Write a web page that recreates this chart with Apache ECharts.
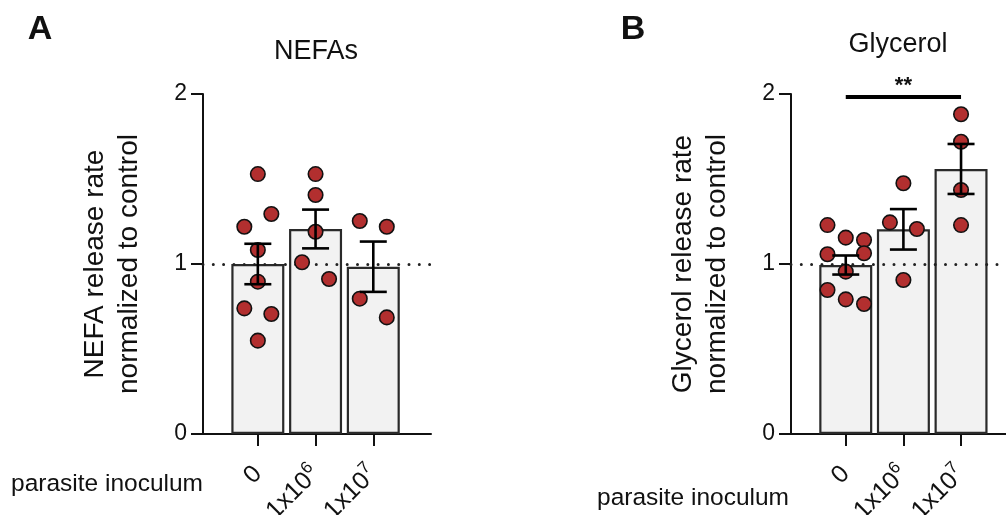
<!DOCTYPE html>
<html>
<head>
<meta charset="utf-8">
<script src="https://cdn.jsdelivr.net/npm/echarts@6/dist/echarts.min.js"></script>
<style>
  html, body { margin: 0; padding: 0; background: #fff; }
  #main { width: 1006px; height: 515px; }
</style>
</head>
<body>
<div id="main"></div>
<script>
// groups on the x axis
var groups = ['0', '1x10^6', '1x10^7'];
var yTicks = [0, 1, 2];

// NEFA release (normalized), one array per group
var nefaCtrl = [1.529, 1.294, 1.219, 1.082, 0.896, 0.739, 0.706, 0.549];
var nefaLow = [1.529, 1.406, 1.190, 1.010, 0.912];
var nefaHigh = [1.253, 1.219, 0.796, 0.686];
var nefaMean = [1.000, 1.206, 0.984];
var nefaSem = [0.119, 0.114, 0.148];

// glycerol release (normalized)
var glyCtrl = [1.229, 1.155, 1.141, 1.057, 1.063, 0.955, 0.847, 0.792, 0.765];
var glyLow = [1.475, 1.245, 1.206, 0.906];
var glyHigh = [1.881, 1.719, 1.435, 1.229];
var glyMean = [0.994, 1.204, 1.559];
var glySem = [0.056, 0.119, 0.147];

// significance: 0 vs 1x10^7, glycerol
var sigFrom = 1, sigTo = 3, sigY = 1.984, sigText = '**';

// scatter jitter (column lanes), kept apart from values
var laneA = 0.234, laneB = 0.317;
var nefaCtrlLane = [0, 1, -1, 0, 0, -1, 1, 0];
var nefaLowLane = [0, 0, 0, -1, 1];
var nefaHighLane = [-1, 1, -1, 1];
var glyCtrlLane = [-1, 0, 1, -1, 1, 0, -1, 0, 1];
var glyLowLane = [0, -1, 1, 0];
var glyHighLane = [0, 0, 0, 0];

var FONT = '"Liberation Sans", Arial, sans-serif';
var RED = '#b22f2f';

function dots(vals, lanes, pos, w) {
  return vals.map(function (v, i) { return [pos + lanes[i] * w, v]; });
}

function xAxisFor(idx, max) {
  return {
    gridIndex: idx, type: 'value', min: 0.05, max: max,
    splitLine: { show: false },
    axisLine: { show: true, lineStyle: { color: '#111', width: 2 } },
    axisTick: { show: true, length: 12, lineStyle: { color: '#111', width: 2 }, customValues: [1, 2, 3] },
    axisLabel: {
      customValues: [1, 2, 3], rotate: 45, margin: 36, fontSize: 25, fontFamily: FONT, color: '#111',
      formatter: function (v) {
        var g = groups[Math.round(v) - 1];
        if (!g) return '';
        var p = g.split('^');
        return p.length > 1 ? '{b|' + p[0] + '}{s|' + p[1] + '}' : '{b|' + g + '}';
      },
      rich: {
        b: { fontSize: 25, fontFamily: FONT, color: '#111', lineHeight: 32 },
        s: { fontSize: 17, fontFamily: FONT, color: '#111', lineHeight: 17, verticalAlign: 'top' }
      }
    }
  };
}

function yAxisFor(idx, name) {
  return {
    gridIndex: idx, type: 'value', min: 0, max: 2, interval: 1,
    name: name, nameLocation: 'middle', nameGap: 57, nameRotate: 90,
    nameTextStyle: { fontSize: 28, fontFamily: FONT, color: '#111', lineHeight: 34 },
    splitLine: { show: false },
    axisLine: { show: true, lineStyle: { color: '#111', width: 2 } },
    axisTick: { show: true, length: 12, lineStyle: { color: '#111', width: 2 } },
    axisLabel: { margin: 16, fontSize: 23, fontFamily: FONT, color: '#111',
      formatter: function (v) { return yTicks.indexOf(v) >= 0 ? String(v) : ''; } }
  };
}

function barSeries(idx, means) {
  return {
    type: 'bar', xAxisIndex: idx, yAxisIndex: idx, barWidth: 53, z: 2,
    itemStyle: { color: '#f2f2f2', borderColor: '#2a2a2a', borderWidth: 2.2 },
    data: means.map(function (m, i) { return [i + 1, m]; }),
    markLine: {
      silent: true, symbol: 'none', label: { show: false }, z: 3,
      lineStyle: { color: '#222', width: 3, type: [0, 10.3], cap: 'round' },
      data: [{ yAxis: 1 }]
    }
  };
}

function errSeries(idx, means, sems) {
  return {
    type: 'custom', xAxisIndex: idx, yAxisIndex: idx, z: 6,
    data: means.map(function (m, i) { return [i + 1, m - sems[i], m + sems[i]]; }),
    renderItem: function (params, api) {
      var lo = api.coord([api.value(0), api.value(1)]);
      var hi = api.coord([api.value(0), api.value(2)]);
      var hw = 13.5;
      var st = { stroke: '#000', lineWidth: 2.6 };
      return { type: 'group', children: [
        { type: 'line', shape: { x1: lo[0], y1: lo[1], x2: hi[0], y2: hi[1] }, style: st },
        { type: 'line', shape: { x1: lo[0] - hw, y1: lo[1], x2: lo[0] + hw, y2: lo[1] }, style: st },
        { type: 'line', shape: { x1: hi[0] - hw, y1: hi[1], x2: hi[0] + hw, y2: hi[1] }, style: st }
      ] };
    }
  };
}

function dotSeries(idx, data) {
  return {
    type: 'scatter', xAxisIndex: idx, yAxisIndex: idx, z: 5, symbolSize: 14.5,
    itemStyle: { color: RED, borderColor: '#111', borderWidth: 1.6, opacity: 1 },
    data: data
  };
}

function txt(t, x, y, size, weight, align) {
  return { type: 'text', x: x, y: y, silent: true,
    style: { text: t, font: (weight || 'normal') + ' ' + size + 'px ' + FONT, fill: '#111',
      textAlign: align || 'center', textVerticalAlign: 'middle' } };
}

var chart = echarts.init(document.getElementById('main'));
chart.setOption({
  animation: false,
  backgroundColor: '#fff',
  grid: [
    { left: 203, top: 94, width: 228, height: 340, containLabel: false, outerBoundsMode: 'none' },
    { left: 791, top: 94, width: 215, height: 340, containLabel: false, outerBoundsMode: 'none' }
  ],
  xAxis: [xAxisFor(0, 4), xAxisFor(1, 3.78)],
  yAxis: [
    yAxisFor(0, 'NEFA release rate\nnormalized to control'),
    yAxisFor(1, 'Glycerol release rate\nnormalized to control')
  ],
  series: [
    barSeries(0, nefaMean),
    errSeries(0, nefaMean, nefaSem),
    dotSeries(0, dots(nefaCtrl, nefaCtrlLane, 1, laneA)
      .concat(dots(nefaLow, nefaLowLane, 2, laneA))
      .concat(dots(nefaHigh, nefaHighLane, 3, laneA))),
    barSeries(1, glyMean),
    errSeries(1, glyMean, glySem),
    dotSeries(1, dots(glyCtrl, glyCtrlLane, 1, laneB)
      .concat(dots(glyLow, glyLowLane, 2, laneA))
      .concat(dots(glyHigh, glyHighLane, 3, laneA))),
    {
      type: 'line', xAxisIndex: 1, yAxisIndex: 1, data: [], z: 7,
      markLine: {
        silent: true, symbol: 'none',
        lineStyle: { color: '#000', width: 4, type: 'solid' },
        label: { show: true, position: 'middle', formatter: sigText, fontSize: 22,
          fontWeight: 'bold', fontFamily: FONT, color: '#111', distance: 0 },
        data: [[{ coord: [sigFrom, sigY] }, { coord: [sigTo, sigY] }]]
      }
    }
  ],
  graphic: [
    txt('A', 40, 30, 34, 'bold'),
    txt('B', 633, 30, 34, 'bold'),
    txt('NEFAs', 316, 52, 27),
    txt('Glycerol', 898, 45, 27),
    txt('parasite inoculum', 11, 484, 24.5, 'normal', 'left'),
    txt('parasite inoculum', 597, 498, 24.5, 'normal', 'left')
  ]
});
</script>
</body>
</html>
